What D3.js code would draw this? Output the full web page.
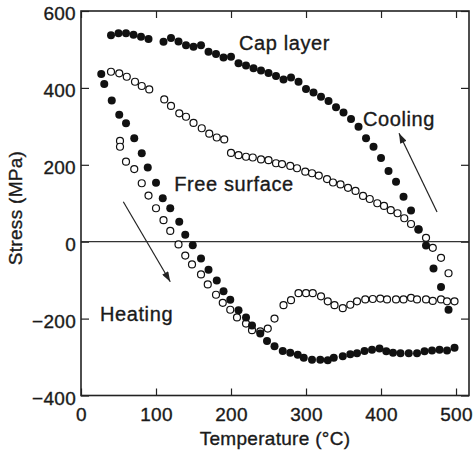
<!DOCTYPE html>
<html>
<head>
<meta charset="utf-8">
<script src="https://cdn.jsdelivr.net/npm/d3@7"></script>
<style>
    body { margin: 0; background: #fff; }
    text { font-family: "Liberation Sans", Arial, Helvetica, sans-serif; fill: #1a1a1a; stroke: #1a1a1a; stroke-width: 0.35px; }
</style>
</head>
<body>
<div id="chart"></div>
<script>
// 盖层（实心点）：加热段
var capHeatT = [27, 31, 41, 51, 60, 71, 81, 89, 100, 109, 119, 131, 139, 149, 160, 170, 181, 190, 199, 210,
    220, 228, 239, 248, 258, 269, 279, 289, 297, 308, 319, 329, 337, 349, 359, 368, 378, 388, 398, 407,
    416, 426, 437, 448, 458, 468, 478, 488, 498];
var capHeatS = [436, 410, 367, 330, 308, 269, 230, 193, 153, 113, 87, 52, 18, -9, -44, -73, -101, -129, -151, -178,
    -197, -218, -239, -258, -272, -284, -289, -294, -302, -307, -307, -308, -302, -298, -293, -290, -284, -281, -278, -285,
    -289, -290, -290, -290, -285, -283, -281, -283, -276];
// 盖层：冷却段
var capCoolT = [40, 50, 60, 70, 80, 90, 110, 120, 130, 140, 150, 160, 170, 180, 190, 200, 210, 220, 230, 240,
    250, 260, 270, 280, 290, 300, 310, 320, 330, 340, 350, 360, 370, 380, 390, 400, 410, 420, 430, 440,
    450, 460, 470, 480, 490];
var capCoolS = [537, 542, 542, 538, 533, 527, 520, 530, 521, 511, 507, 511, 494, 488, 479, 481, 464, 458, 451, 445,
    439, 431, 422, 427, 416, 397, 388, 377, 366, 350, 336, 319, 299, 269, 247, 218, 184, 156, 117, 81,
    32, -10, -70, -118, -177];
// 自由表面（空心点）：加热段
var freeHeatT = [52, 52, 60, 71, 81, 90, 100, 110, 119, 130, 139, 148, 160, 169, 180, 189, 199, 208, 220, 228,
    239, 249, 258, 270, 280, 290, 300, 309, 320, 329, 338, 349, 359, 368, 379, 389, 399, 408, 420, 430,
    440, 448, 460, 469, 480, 488, 498];
var freeHeatS = [262, 247, 208, 189, 152, 120, 87, 56, 28, -7, -36, -59, -85, -111, -138, -159, -177, -197, -213, -230,
    -233, -226, -200, -165, -152, -134, -134, -134, -142, -155, -165, -173, -164, -155, -150, -149, -148, -150, -150, -150,
    -146, -150, -150, -154, -150, -155, -155];
// 自由表面：冷却段
var freeCoolT = [40, 51, 61, 72, 81, 91, 111, 120, 131, 140, 150, 161, 171, 181, 191, 200, 210, 220, 229, 240,
    250, 260, 268, 279, 288, 299, 308, 317, 328, 336, 346, 356, 366, 376, 385, 395, 404, 413, 422, 431,
    440, 450, 460, 469, 480, 490];
var freeCoolS = [442, 438, 429, 416, 405, 396, 370, 353, 334, 325, 309, 295, 281, 271, 266, 231, 225, 221, 219, 214,
    212, 204, 202, 197, 191, 182, 178, 172, 163, 154, 149, 140, 132, 119, 111, 100, 93, 82, 74, 61,
    46, 32, 10, -16, -42, -82];

var xTicks = [0, 100, 200, 300, 400, 500];
var yTicks = [-400, -200, 0, 200, 400, 600];

// 尺寸和边距
var margin = { top: 11, right: 5, bottom: 56.5, left: 81 },
    width = 474 - margin.left - margin.right,
    height = 452 - margin.top - margin.bottom;

var svg = d3.select("#chart").append("svg")
    .attr("width", 474)
    .attr("height", 452);

var g = svg.append("g")
    .attr("transform", "translate(" + margin.left + "," + margin.top + ")");

var x = d3.scaleLinear().domain([0, 517.3]).range([0, width]);
var y = d3.scaleLinear().domain([-400, 600]).range([height, 0]);

function pairs(ts, ss) {
    return ts.map(function (t, i) { return { t: t, s: ss[i] }; });
}

// 坐标轴（刻度朝内）
var fontSize = "19px";
var bottom = g.append("g")
    .attr("transform", "translate(0," + height + ")")
    .call(d3.axisBottom(x).tickValues(xTicks).tickSize(-7).tickSizeOuter(0).tickPadding(12));
var left = g.append("g")
    .call(d3.axisLeft(y).tickValues(yTicks).tickSize(-8).tickSizeOuter(0).tickPadding(5)
        .tickFormat(function (d) { return d < 0 ? "\u2212" + Math.abs(d) : d; }));
g.append("g")
    .call(d3.axisTop(x).tickValues(xTicks).tickSize(-7).tickSizeOuter(0).tickFormat(""));
g.append("g")
    .attr("transform", "translate(" + width + ",0)")
    .call(d3.axisRight(y).tickValues(yTicks).tickSize(-8).tickSizeOuter(0).tickFormat(""));

g.selectAll(".domain").remove();
g.selectAll(".tick line").attr("stroke", "#222").attr("stroke-width", 1.2);
g.selectAll(".tick text")
    .attr("font-family", null)
    .style("font-size", fontSize)
    .style("letter-spacing", "0.3px")
    .attr("fill", "#1a1a1a");
left.selectAll(".tick text").attr("dy", "0.45em");

// 零线
g.append("line")
    .attr("x1", 0).attr("x2", width)
    .attr("y1", y(0)).attr("y2", y(0))
    .attr("stroke", "#333")
    .attr("stroke-width", 1.2);

// 外框
g.append("rect")
    .attr("width", width)
    .attr("height", height)
    .attr("fill", "none")
    .attr("stroke", "#222")
    .attr("stroke-width", 1.6);

// 空心点
g.selectAll("circle.free")
    .data(pairs(freeHeatT, freeHeatS).concat(pairs(freeCoolT, freeCoolS)))
    .enter().append("circle")
    .attr("class", "free")
    .attr("cx", function (d) { return x(d.t); })
    .attr("cy", function (d) { return y(d.s); })
    .attr("r", 3.5)
    .attr("fill", "#fff")
    .attr("stroke", "#111")
    .attr("stroke-width", 1.2);

// 实心点
g.selectAll("circle.cap")
    .data(pairs(capHeatT, capHeatS).concat(pairs(capCoolT, capCoolS)))
    .enter().append("circle")
    .attr("class", "cap")
    .attr("cx", function (d) { return x(d.t); })
    .attr("cy", function (d) { return y(d.s); })
    .attr("r", 4)
    .attr("fill", "#111");

// 箭头
svg.append("defs").append("marker")
    .attr("id", "head")
    .attr("viewBox", "0 0 10 7")
    .attr("refX", 10).attr("refY", 3.5)
    .attr("markerWidth", 11).attr("markerHeight", 7)
    .attr("markerUnits", "userSpaceOnUse")
    .attr("orient", "auto")
    .append("path")
    .attr("d", "M0,0L10,3.5L0,7Z")
    .attr("fill", "#222");

var arrows = [
    { from: [474.7, 77], to: [424, 282] },
    { from: [56.4, 104], to: [119, -104] }
];
g.selectAll("line.arrow")
    .data(arrows)
    .enter().append("line")
    .attr("class", "arrow")
    .attr("x1", function (d) { return x(d.from[0]); })
    .attr("y1", function (d) { return y(d.from[1]); })
    .attr("x2", function (d) { return x(d.to[0]); })
    .attr("y2", function (d) { return y(d.to[1]); })
    .attr("stroke", "#222")
    .attr("stroke-width", 1.2)
    .attr("marker-end", "url(#head)");

// 文字标注
var notes = [
    { text: "Cap layer", t: 210.7, s: 498.6 },
    { text: "Cooling", t: 376, s: 301 },
    { text: "Free surface", t: 124.4, s: 132.6 },
    { text: "Heating", t: 25.3, s: -206 }
];
g.selectAll("text.note")
    .data(notes)
    .enter().append("text")
    .attr("class", "note")
    .attr("x", function (d) { return x(d.t); })
    .attr("y", function (d) { return y(d.s); })
    .style("font-size", "20px")
    .style("letter-spacing", "0.6px")
    .text(function (d) { return d.text; });

// 轴标题
svg.append("text")
    .attr("x", margin.left + width / 2)
    .attr("y", 445)
    .attr("text-anchor", "middle")
    .style("font-size", fontSize)
    .style("letter-spacing", "0.3px")
    .text("Temperature (\u00B0C)");

svg.append("text")
    .attr("transform", "translate(22,208) rotate(-90)")
    .attr("text-anchor", "middle")
    .style("font-size", fontSize)
    .style("letter-spacing", "0.3px")
    .text("Stress (MPa)");
</script>
</body>
</html>
